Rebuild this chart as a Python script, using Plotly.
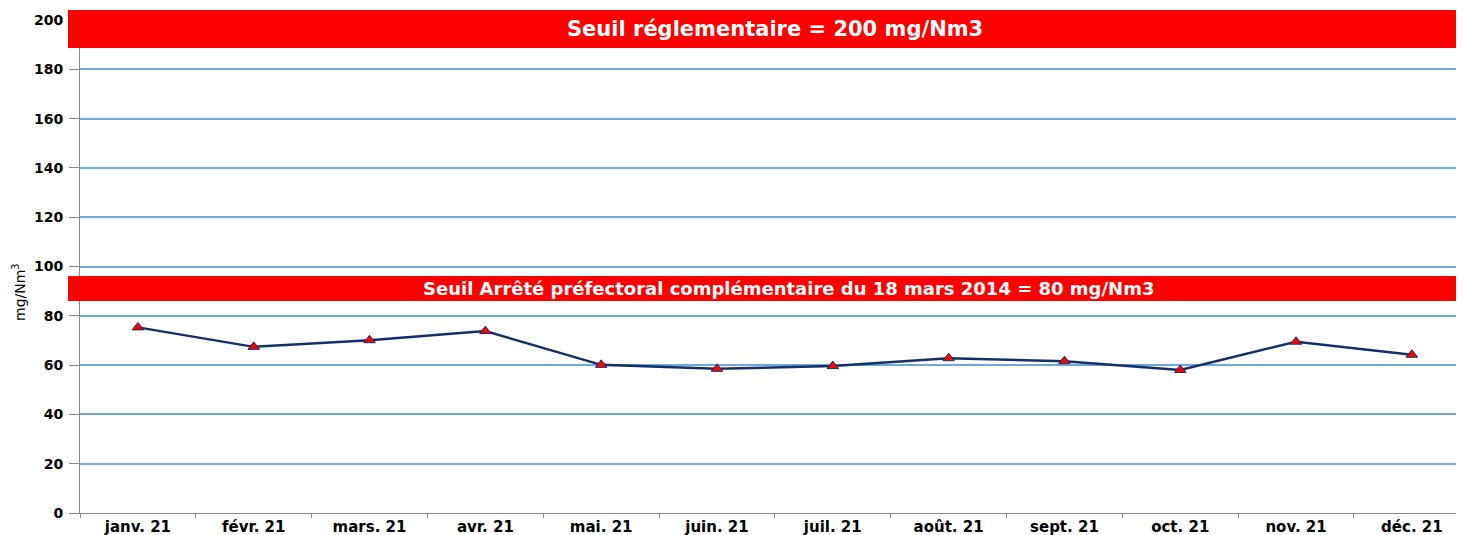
import plotly.graph_objects as go

months = ["janv. 21", "févr. 21", "mars. 21", "avr. 21", "mai. 21", "juin. 21",
          "juil. 21", "août. 21", "sept. 21", "oct. 21", "nov. 21", "déc. 21"]
values = [75.3, 67.4, 70.1, 73.8, 60.1, 58.5, 59.6, 62.8, 61.6, 58.0, 69.5, 64.2]

y_ticks = [0, 20, 40, 60, 80, 100, 120, 140, 160, 180, 200]
band_top_text = "Seuil réglementaire = 200 mg/Nm3"
band_mid_text = "Seuil Arrêté préfectoral complémentaire du 18 mars 2014 = 80 mg/Nm3"
y_title = "mg/Nm<sup>3</sup>"

FONT = "DejaVu Sans"
PLOT_H = 493.0
PLOT_W = 1384.0

fig = go.Figure()
fig.add_trace(go.Scatter(
    x=months, y=values, mode="lines+markers",
    line=dict(color="#14306b", width=2.5),
    marker=dict(symbol="triangle-up", size=10, color="#ff0000",
                line=dict(color="#14306b", width=1)),
    cliponaxis=False, showlegend=False,
))

# red threshold bands
fig.add_shape(type="rect", xref="paper", yref="paper",
              x0=-12 / PLOT_W, x1=1.01, y0=(513 - 48) / PLOT_H, y1=(513 - 10) / PLOT_H,
              fillcolor="#ff0000", line=dict(width=0), layer="above")
fig.add_shape(type="rect", xref="paper", yref="paper",
              x0=-12 / PLOT_W, x1=1.01, y0=(513 - 301) / PLOT_H, y1=(513 - 276) / PLOT_H,
              fillcolor="#ff0000", line=dict(width=0), layer="above")

fig.add_annotation(xref="paper", yref="paper", x=(775 - 80) / PLOT_W, y=(513 - 29) / PLOT_H,
                   xanchor="center", yanchor="middle",
                   text=band_top_text, showarrow=False,
                   font=dict(family=FONT, size=21, color="white", weight="bold"))
fig.add_annotation(xref="paper", yref="paper", x=(788 - 80) / PLOT_W, y=(513 - 288.5) / PLOT_H,
                   xanchor="center", yanchor="middle",
                   text=band_mid_text, showarrow=False,
                   font=dict(family=FONT, size=18, color="white", weight="bold"))

# y axis title (placed like the reference, below the plot centre)
fig.add_annotation(xref="paper", yref="paper", x=0, xshift=19 - 80, y=(513 - 292) / PLOT_H,
                   xanchor="center", yanchor="middle", textangle=-90,
                   text=y_title, showarrow=False,
                   font=dict(family=FONT, size=14, color="black"))

fig.update_layout(
    width=1456, height=527,
    margin=dict(l=72, r=0, t=12, b=22, pad=0),
    paper_bgcolor="white", plot_bgcolor="white",
    font=dict(family=FONT, size=13, color="black"),
    xaxis=dict(
        type="category", range=[-0.5, 11.45],
        tickson="boundaries", ticks="outside", ticklen=4, tickcolor="#888888",
        showline=True, linecolor="#888888", linewidth=1,
        showgrid=False, automargin=False,
        tickfont=dict(family=FONT, size=15, weight="bold"),
    ),
    yaxis=dict(
        range=[0, 200], tickvals=y_ticks,
        ticks="outside", ticklen=10, tickcolor="#888888", ticklabelstandoff=3,
        showline=True, linecolor="#888888", linewidth=1,
        showgrid=True, gridcolor="#6fa8dc", gridwidth=1.5,
        zeroline=False, automargin=False,
        tickfont=dict(family=FONT, size=14, weight="bold"),
    ),
)

fig.write_html("out.html")
